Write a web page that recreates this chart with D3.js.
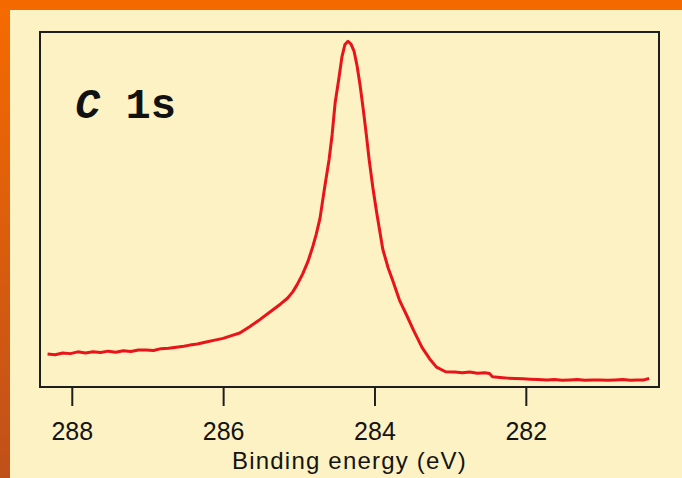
<!DOCTYPE html>
<html>
<head>
<meta charset="utf-8">
<script src="https://cdn.jsdelivr.net/npm/d3@7"></script>
<style>
  html, body { margin: 0; padding: 0; background: #fdf2c3; }
  svg { display: block; }
</style>
</head>
<body>
<svg id="chart" width="682" height="478"></svg>
<script>
// C 1s core-level spectrum: binding energy (eV) and intensity (arb. units)
const bindingEnergy = [
  288.32, 288.22, 288.12, 288.02, 287.92, 287.82, 287.72, 287.62, 287.52, 287.42,
  287.32, 287.22, 287.12, 287.02, 286.92, 286.82, 286.72, 286.62, 286.52, 286.44,
  286.34, 286.24, 286.11, 286.00, 285.90, 285.78, 285.65, 285.52, 285.39, 285.24,
  285.15, 285.08, 285.02, 284.95, 284.88, 284.82, 284.77, 284.72, 284.66, 284.60,
  284.56, 284.52, 284.47, 284.43, 284.39, 284.35, 284.31, 284.27, 284.23, 284.19,
  284.15, 284.11, 284.07, 284.02, 283.97, 283.89, 283.82, 283.76, 283.67, 283.57,
  283.48, 283.37, 283.27, 283.18, 283.06, 282.94, 282.84, 282.74, 282.64, 282.54,
  282.48, 282.44, 282.34, 282.24, 282.14, 282.04, 281.94, 281.84, 281.72, 281.62,
  281.52, 281.42, 281.32, 281.22, 281.12, 281.02, 280.92, 280.82, 280.72, 280.62,
  280.52, 280.44, 280.37
];
const intensity = [
  9.3, 9.1, 9.6, 9.4, 9.9, 9.6, 9.9, 9.7, 10.1, 9.8,
  10.2, 10.0, 10.4, 10.4, 10.3, 10.8, 10.9, 11.2, 11.5, 11.8,
  12.1, 12.6, 13.2, 13.7, 14.4, 15.2, 17.0, 18.9, 21.0, 23.4,
  25.0, 26.8, 28.9, 31.8, 35.3, 39.2, 43.0, 47.5, 56.0, 64.0,
  71.0, 80.0, 87.0, 93.0, 96.5, 97.4, 96.6, 94.6, 90.5, 85.0,
  78.5, 71.5, 64.0, 56.0, 49.0, 38.8, 33.6, 30.1, 24.5, 20.0,
  15.8, 11.1, 7.9, 5.6, 4.3, 4.2, 4.0, 4.2, 3.9, 4.0,
  3.8, 2.9, 2.7, 2.5, 2.4, 2.3, 2.2, 2.1, 2.0, 2.1,
  1.9, 2.0, 2.1, 1.9, 2.0, 2.0, 1.9, 2.0, 2.1, 1.9,
  2.0, 2.0, 2.4
];
const xTicks = [288, 286, 284, 282];
const xTitle = "Binding energy (eV)";
const peakLabel = { element: "C", level: "1s" };

const svg = d3.select("#chart");
const W = 682, H = 478;
const plot = { left: 40, top: 32, right: 659, bottom: 387 };

// frame: cream page with an orange band along the top and left edges
const defs = svg.append("defs");
const grad = defs.append("linearGradient")
  .attr("id", "leftBand").attr("x1", 0).attr("y1", 0).attr("x2", 0).attr("y2", 1);
grad.append("stop").attr("offset", "0%").attr("stop-color", "#f66a00");
grad.append("stop").attr("offset", "100%").attr("stop-color", "#c0501a");

svg.append("rect").attr("width", W).attr("height", H).attr("fill", "#fdf2c3");
svg.append("rect").attr("x", 0).attr("y", 0).attr("width", 10).attr("height", H)
  .attr("fill", "url(#leftBand)");
svg.append("rect").attr("x", 0).attr("y", 0).attr("width", W).attr("height", 10)
  .attr("fill", "#f46a00");

// scales (binding energy runs right-to-left)
const x = d3.scaleLinear().domain([288.42, 280.24]).range([plot.left, plot.right]);
const y = d3.scaleLinear().domain([0, 100]).range([plot.bottom, plot.top]);

// spectrum line
const pts = bindingEnergy.map((e, i) => [e, intensity[i]]);
svg.append("path")
  .datum(pts)
  .attr("fill", "none")
  .attr("stroke", "#e8141a")
  .attr("stroke-width", 3)
  .attr("stroke-linejoin", "round")
  .attr("d", d3.line().x(d => x(d[0])).y(d => y(d[1])));

// plot box
svg.append("rect")
  .attr("x", plot.left).attr("y", plot.top)
  .attr("width", plot.right - plot.left).attr("height", plot.bottom - plot.top)
  .attr("fill", "none").attr("stroke", "#1e1e1e").attr("stroke-width", 2);

// x axis
const axis = svg.append("g")
  .attr("transform", `translate(0,${plot.bottom})`)
  .call(d3.axisBottom(x).tickValues(xTicks).tickSize(19).tickPadding(16).tickFormat(d3.format("d")));
axis.select(".domain").remove();
axis.selectAll(".tick line").attr("stroke", "#1e1e1e").attr("stroke-width", 2);
axis.selectAll(".tick text")
  .attr("fill", "#141414")
  .style("font-family", "'Liberation Sans', Arial, sans-serif")
  .style("font-size", "25px");

svg.append("text")
  .attr("x", (plot.left + plot.right) / 2)
  .attr("y", 469)
  .attr("text-anchor", "middle")
  .attr("fill", "#141414")
  .style("font-family", "'Liberation Sans', Arial, sans-serif")
  .style("font-size", "24px")
  .style("letter-spacing", "1.2px")
  .text(xTitle);

// core-level label
const lbl = svg.append("text")
  .attr("x", 75).attr("y", 118)
  .attr("fill", "#111")
  .style("font-family", "'Liberation Mono', 'Courier New', monospace")
  .style("font-weight", "bold")
  .style("font-size", "42px");
lbl.append("tspan").style("font-style", "italic").text(peakLabel.element);
lbl.append("tspan").text(" " + peakLabel.level);
</script>
</body>
</html>
